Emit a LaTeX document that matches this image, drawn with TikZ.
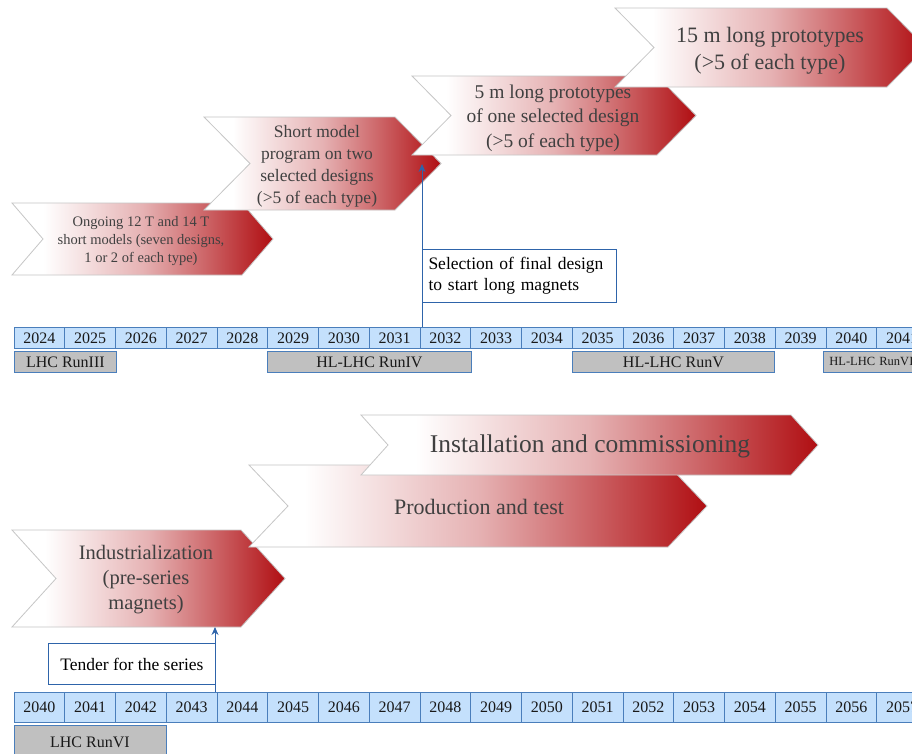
\documentclass[tikz,border=0pt]{standalone}
\usepackage{fontspec}
\setmainfont{Liberation Serif}
\usetikzlibrary{arrows.meta}
\definecolor{chevred}{RGB}{176,14,18}
\colorlet{chevA}{chevred!32!white}
\colorlet{chevB}{chevred!64!white}
\definecolor{celfill}{RGB}{196,224,252}
\definecolor{celline}{RGB}{74,126,187}
\definecolor{runfill}{RGB}{192,192,192}
\definecolor{txtgray}{RGB}{64,64,64}
\definecolor{arrblue}{RGB}{46,100,170}
\pgfdeclarehorizontalshading{chevshade}{100bp}{color(0bp)=(white); color(25bp)=(white); color(31bp)=(white); color(50bp)=(chevA); color(62bp)=(chevB); color(75bp)=(chevred); color(100bp)=(chevred)}
\newcommand{\mychev}[5]{% left, top, tip, bottom, depth
  \path[chevbox] (#1,#2) -- ({#3-#5},#2) -- (#3,{(#2+#4)/2}) -- ({#3-#5},#4) -- (#1,#4) -- ({#1+#5},{(#2+#4)/2}) -- cycle;}
\tikzset{
  chevbox/.style={shading=chevshade, draw=gray!45, line width=0.8pt},
  chevtext/.style={text=txtgray, align=center, inner sep=0pt},
  yearcell/.style={draw=celline, fill=celfill, line width=0.8pt, anchor=north west, inner sep=0pt, text=black!90, font=\fontsize{16}{17}\selectfont, minimum width=50.75pt},
  runbar/.style={draw=celline, fill=runfill, line width=0.8pt, anchor=north west, inner sep=0pt, text=black!90, font=\fontsize{16}{17}\selectfont},
  notebox/.style={draw=arrblue, fill=white, line width=1pt, anchor=north west, inner sep=0pt, text=black, font=\fontsize{17.5}{21}\selectfont},
  noteArrow/.style={draw=arrblue, line width=1pt, -{Stealth[length=8pt,width=7pt]}}
}
\begin{document}
\begin{tikzpicture}[x=1pt,y=-1pt]
\fill[white] (0,0) rectangle (912,753);
\useasboundingbox (0,0) rectangle (912,753);

% ---------- top chevrons ----------
\mychev{12}{203}{273}{275}{31}
\node[chevtext, font=\fontsize{14.5}{18}\selectfont] (c1) at (141,241) {Ongoing 12 T and 14 T\\short models (seven designs,\\1 or 2 of each type)};
\mychev{204}{117}{441}{210}{46}
\node[chevtext, font=\fontsize{17.5}{22}\selectfont] (c2) at (317,166) {Short model\\program on two\\selected designs\\(>5 of each type)};
\mychev{412}{76}{696}{155}{39}
\node[chevtext, font=\fontsize{19.5}{24.5}\selectfont] (c3) at (553,118) {5 m long prototypes\\of one selected design\\(>5 of each type)};
\mychev{615}{8}{926}{87}{39}
\node[chevtext, font=\fontsize{22}{27}\selectfont] (c4) at (770,51) {15 m long prototypes\\(>5 of each type)};

% ---------- top years ----------
\foreach \i in {0,...,17} {
  \pgfmathtruncatemacro\yr{2024+\i}
  \node[yearcell, minimum height=21pt] (ya\i) at ({13.5+50.75*\i},327) {\yr};
}
\node[runbar, minimum width=102pt, minimum height=21pt] (r3) at (14,351) {LHC RunIII};
\node[runbar, minimum width=204pt, minimum height=21pt] (r4) at (267,351) {HL-LHC RunIV};
\node[runbar, minimum width=202pt, minimum height=21pt] (r5) at (572,351) {HL-LHC RunV};
\node[runbar, minimum width=110pt, minimum height=21pt, font=\fontsize{12.5}{14}\selectfont, text width=100pt, align=left, inner xsep=6pt] (r6a) at (823,351) {HL-LHC RunVI};

% selection note
\node[notebox, text width=182pt, minimum height=53pt, inner xsep=6pt, align=left] (sel) at (422,249) {Selection of final design\\to start long magnets};
\coordinate (selfoot) at (422,327);
\coordinate (selhead) at (422,164);
\draw[noteArrow] (selfoot) -- (selhead);

% ---------- bottom chevrons ----------
\mychev{12}{530}{285}{627}{44}
\node[chevtext, font=\fontsize{20.5}{25}\selectfont] (ind) at (146,580) {Industrialization\\(pre-series\\magnets)};
\mychev{249}{465}{707}{547}{39}
\node[chevtext, font=\fontsize{22}{24}\selectfont] (prod) at (479,507) {Production and test};
\mychev{361}{415}{818}{475}{27}
\node[chevtext, font=\fontsize{25.5}{28}\selectfont] (inst) at (590,446) {Installation and commissioning};

% ---------- bottom years ----------
\foreach \i in {0,...,17} {
  \pgfmathtruncatemacro\yr{2040+\i}
  \node[yearcell, minimum height=30pt] (yb\i) at ({13.5+50.75*\i},692) {\yr};
}
\node[runbar, minimum width=152pt, minimum height=34pt] (r6b) at (13.5,725) {LHC RunVI};

% tender note
\node[notebox, minimum width=167pt, minimum height=41pt] (tender) at (48,643) {Tender for the series};
\coordinate (tenfoot) at (215,692);
\coordinate (tenhead) at (215,627);
\draw[noteArrow] (tenfoot) -- (tenhead);
\end{tikzpicture}
\end{document}
